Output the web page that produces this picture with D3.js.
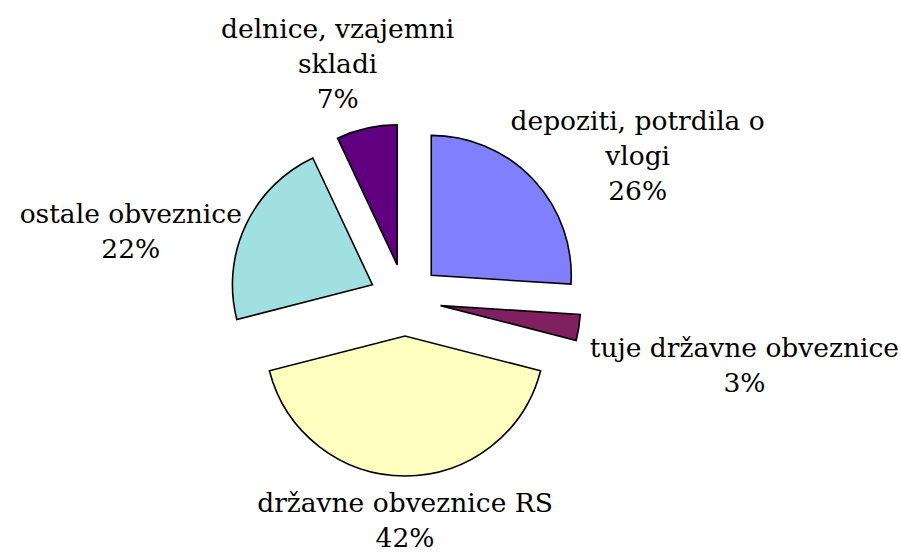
<html>
<head>
  <meta charset="UTF-8">
  <title>Struktura nalozb</title>
  <script src="https://cdn.jsdelivr.net/npm/d3@7"></script>
  <style>
    body { margin: 0; background: #fff; }
    text { font-family: "DejaVu Serif", serif; font-size: 26.5px; fill: #000; }
  </style>
</head>
<body>
<svg id="chart" width="901" height="554"></svg>
<script>
  // data, clockwise from 12 o'clock
  var categories = ["depoziti, potrdila o vlogi", "tuje državne obveznice", "državne obveznice RS", "ostale obveznice", "delnice, vzajemni skladi"];
  var labelLines = [["depoziti, potrdila o", "vlogi"], ["tuje državne obveznice"], ["državne obveznice RS"], ["ostale obveznice"], ["delnice, vzajemni", "skladi"]];
  var values = [26, 3, 42, 22, 7];
  var colors = ["#8080FF", "#802060", "#FFFFC0", "#A0E0E0", "#600080"];

  var width = 901, height = 554;
  var cx = 405, cy = 300, radius = 140, explode = 36, labelGap = 16, lineH = 35, sideDrop = 30, topLift = 6;

  var svg = d3.select("#chart");
  var g = svg.append("g").attr("transform", "translate(" + cx + "," + cy + ")");

  var rows = categories.map(function (c, i) {
    return { name: c, value: values[i], color: colors[i], lines: labelLines[i] };
  });

  var pie = d3.pie().sort(null).value(function (d) { return d.value; });
  var arc = d3.arc().innerRadius(0).outerRadius(radius);
  var total = d3.sum(values);
  var fmt = d3.format(".0%");

  var arcs = pie(rows);

  function unit(d) {
    var a = (d.startAngle + d.endAngle) / 2;
    return [Math.sin(a), -Math.cos(a)];
  }

  g.selectAll(".slice")
    .data(arcs)
    .enter().append("path")
    .attr("class", "slice")
    .attr("transform", function (d) {
      var u = unit(d);
      return "translate(" + (u[0] * explode) + "," + (u[1] * explode) + ")";
    })
    .attr("d", arc)
    .attr("fill", function (d) { return d.data.color; })
    .attr("stroke", "#000")
    .attr("stroke-width", 1.6)
    .attr("stroke-linejoin", "miter");

  // labels: box pushed outward so its nearest edge sits just off the slice,
  // side labels sit a bit lower (like excel does), kept inside the frame
  var labels = g.selectAll(".lbl")
    .data(arcs)
    .enter().append("text")
    .attr("class", "lbl")
    .attr("text-anchor", "middle");

  labels.each(function (d) {
    var t = d3.select(this);
    var lines = d.data.lines.concat([fmt(d.data.value / total)]);
    lines.forEach(function (s, k) {
      t.append("tspan").attr("x", 0).attr("y", k * lineH).text(s);
    });
    var bb = this.getBBox();
    var u = unit(d);
    var r = radius + explode + labelGap;
    var px = u[0] * r + u[0] * bb.width / 2;
    var py = u[1] * r + u[1] * bb.height / 2 + sideDrop * Math.abs(u[0]);
    if (u[1] < -0.9) py -= topLift;
    // clamp to the svg
    var half = bb.width / 2, halfH = bb.height / 2;
    px = Math.max(-cx + half + 2, Math.min(width - cx - half - 2, px));
    py = Math.max(-cy + halfH + 2, Math.min(height - cy - halfH - 1, py));
    var dx = px - (bb.x + bb.width / 2);
    var dy = py - (bb.y + bb.height / 2);
    t.attr("transform", "translate(" + dx + "," + dy + ")");
  });
</script>
</body>
</html>
